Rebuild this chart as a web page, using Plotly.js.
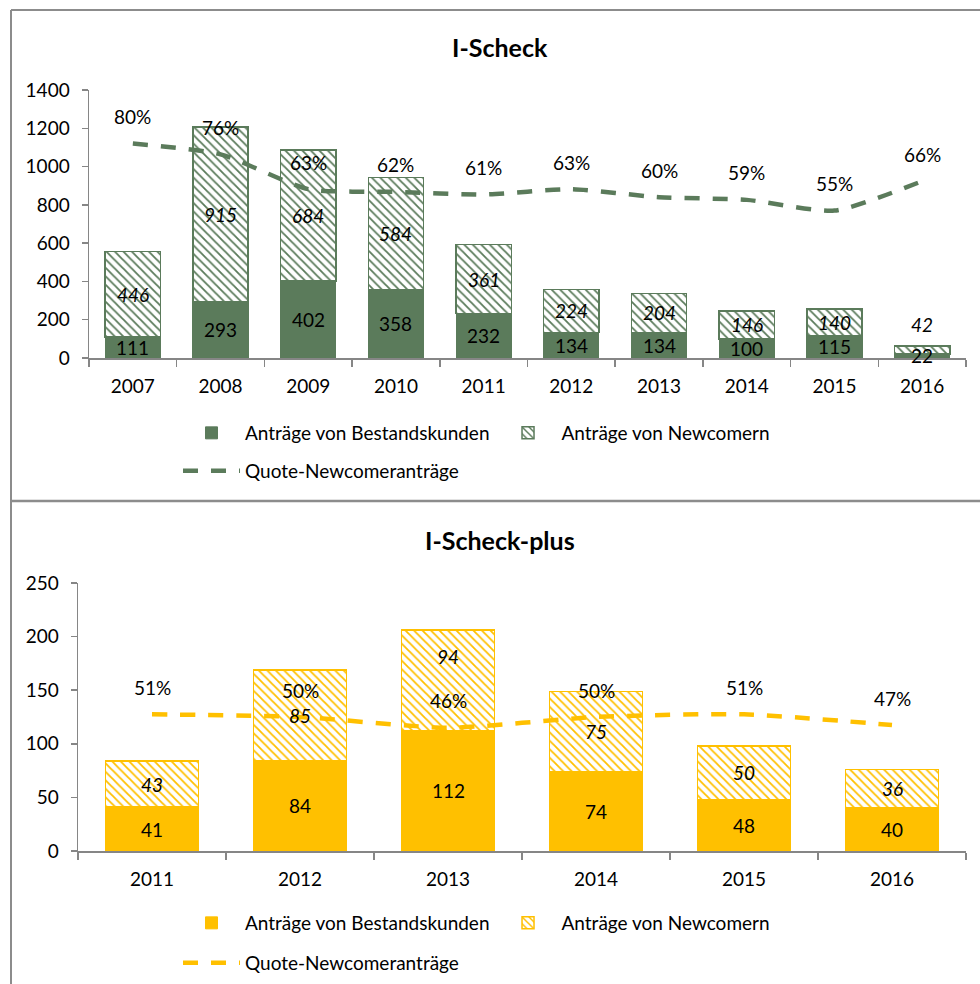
<!DOCTYPE html>
<html>
<head>
<meta charset="utf-8">
<script src="https://cdn.plot.ly/plotly-3.0.1.min.js"></script>
<style>html,body{margin:0;padding:0;background:#fff}#chart{width:980px;height:984px}</style>
</head>
<body>
<div id="chart"></div>
<script>
// ---- data: I-Scheck ----
var yearsA = ['2007','2008','2009','2010','2011','2012','2013','2014','2015','2016'];
var bestandA = [111, 293, 402, 358, 232, 134, 134, 100, 115, 22];
var newcomerA = [446, 915, 684, 584, 361, 224, 204, 146, 140, 42];
var quoteA = [0.80, 0.76, 0.63, 0.62, 0.61, 0.63, 0.60, 0.59, 0.55, 0.66];
// ---- data: I-Scheck-plus ----
var yearsB = ['2011','2012','2013','2014','2015','2016'];
var bestandB = [41, 84, 112, 74, 48, 40];
var newcomerB = [43, 85, 94, 75, 50, 36];
var quoteB = [0.51, 0.50, 0.46, 0.50, 0.51, 0.47];

var GREEN = '#5B7B5B', YELLOW = '#FFC000', AX = '#868686';
var FONT = 'Lato, "Open Sans", sans-serif';
var FS = 19;
var W = 980, H = 984;
var PLOT_H = 268; // pixel height of each plot area
function py(p){ return 1 - p / H; }
function px(p){ return p / W; }

var traces = [];
function addChart(years, bestand, newcomer, quote, col, xa, ya, ya2, lgA, lgB){
  traces.push({type:'bar', name:'Anträge von Bestandskunden', x:years, y:bestand, xaxis:xa, yaxis:ya,
    width:0.63, marker:{color:col, line:{color:col, width:1}}, legend:lgA, hoverinfo:'skip'});
  traces.push({type:'bar', name:'Anträge von Newcomern', x:years, y:newcomer, xaxis:xa, yaxis:ya,
    width:0.63, marker:{color:'white', pattern:{shape:'\\', fgcolor:col, bgcolor:'white', size:6, solidity:0.3},
    line:{color:col, width:1.5}}, legend:lgA, hoverinfo:'skip'});
  traces.push({type:'scatter', mode:'lines', name:'Quote-Newcomeranträge', x:years, y:quote, xaxis:xa, yaxis:ya2,
    line:{color:col, width:4.5, dash:'15px,13px', shape:'spline', smoothing:0.6}, legend:lgB, hoverinfo:'skip'});
}
addChart(yearsA, bestandA, newcomerA, quoteA, GREEN, 'x', 'y', 'y2', 'legend', 'legend2');
addChart(yearsB, bestandB, newcomerB, quoteB, YELLOW, 'x2', 'y3', 'y4', 'legend3', 'legend4');

var annotations = [];
function addLabels(years, bestand, newcomer, quote, xr, yr, yr2, pxPerUnit){
  for (var i = 0; i < years.length; i++){
    // category axes: annotations use the category index
    annotations.push({x:i, y:bestand[i]/2, xref:xr, yref:yr, text:String(bestand[i]), showarrow:false,
      font:{family:FONT, size:FS, color:'#000'}});
    var small = newcomer[i] * pxPerUnit < 20;
    var shift = small ? 8 : 0;
    if (!small){
      // avoid collisions with the percentage label (as in the original)
      var nPx = (bestand[i] + newcomer[i]/2) * pxPerUnit;
      var qPx = quote[i] * PLOT_H + 27;
      if (Math.abs(nPx - qPx) < 22) shift = qPx + 44 - nPx;
    }
    annotations.push({x:i, y: small ? bestand[i] + newcomer[i] : bestand[i] + newcomer[i]/2,
      xref:xr, yref:yr, text:'<i>' + newcomer[i] + '</i>', showarrow:false, yanchor: small ? 'bottom' : 'middle',
      yshift: shift, font:{family:FONT, size:FS, color:'#000'}});
    annotations.push({x:i, y:quote[i], xref:xr, yref:yr2, text:Math.round(quote[i]*100) + '%', showarrow:false,
      yshift:27, font:{family:FONT, size:FS, color:'#000'}});
  }
}
addLabels(yearsA, bestandA, newcomerA, quoteA, 'x', 'y', 'y2', PLOT_H/1400);
addLabels(yearsB, bestandB, newcomerB, quoteB, 'x2', 'y3', 'y4', PLOT_H/250);

annotations.push({text:'<b>I-Scheck</b>', xref:'paper', yref:'paper', x:px(500), y:py(47), yanchor:'middle', showarrow:false,
  font:{family:FONT, size:25, color:'#000'}});
annotations.push({text:'<b>I-Scheck-plus</b>', xref:'paper', yref:'paper', x:px(500), y:py(540), yanchor:'middle', showarrow:false,
  font:{family:FONT, size:25, color:'#000'}});

function xaxisDef(domain, anchor, n){
  return {domain:domain, anchor:anchor, type:'category', range:[-0.5, n - 0.5], autorange:false,
    showline:true, linecolor:AX, linewidth:2, tickangle:0,
    ticks:'outside', tickson:'boundaries', ticklen:7, tickcolor:AX, tickwidth:1.5, showgrid:false, zeroline:false,
    tickfont:{family:FONT, size:FS, color:'#000'}, ticklabelstandoff:10, fixedrange:true};
}
function yaxisDef(domain, anchor, range, dtick){
  return {domain:domain, anchor:anchor, range:range, autorange:false, dtick:dtick, showline:true, linecolor:AX, linewidth:1.5,
    ticks:'outside', ticklen:6, tickcolor:AX, tickwidth:1.5, showgrid:false, zeroline:false,
    tickfont:{family:FONT, size:FS, color:'#000'}, ticklabelstandoff:8, fixedrange:true};
}

var legendBase = {orientation:'h', xanchor:'left', yanchor:'middle', bgcolor:'rgba(0,0,0,0)',
  font:{family:FONT, size:FS, color:'#000'}, itemwidth:57, traceorder:'normal', itemclick:false, itemdoubleclick:false};
function lg(x, y){ var o = JSON.parse(JSON.stringify(legendBase)); o.x = x; o.y = y; return o; }

var layout = {
  width:W, height:H, margin:{l:0, r:0, t:0, b:0}, paper_bgcolor:'#fff', plot_bgcolor:'rgba(0,0,0,0)',
  barmode:'stack', showlegend:true, font:{family:FONT, size:FS, color:'#000'},
  xaxis: xaxisDef([px(89), px(966)], 'y', yearsA.length),
  yaxis: yaxisDef([py(358), py(90)], 'x', [0, 1400], 200),
  yaxis2: {overlaying:'y', range:[0, 1], autorange:false, visible:false, fixedrange:true},
  xaxis2: xaxisDef([px(78), px(966)], 'y3', yearsB.length),
  yaxis3: yaxisDef([py(851), py(583)], 'x2', [0, 250], 50),
  yaxis4: {overlaying:'y3', range:[0, 1], autorange:false, visible:false, fixedrange:true},
  legend: lg(px(178), py(433)),
  legend2: lg(px(178), py(471)),
  legend3: lg(px(178), py(923)),
  legend4: lg(px(178), py(963)),
  annotations: annotations,
  shapes: [
    {type:'line', xref:'paper', yref:'paper', x0:px(11), x1:1, y0:py(10), y1:py(10), line:{color:'#8c8c8c', width:2}},
    {type:'line', xref:'paper', yref:'paper', x0:px(11), x1:px(11), y0:py(10), y1:0, line:{color:'#8c8c8c', width:2}},
    {type:'line', xref:'paper', yref:'paper', x0:px(11), x1:1, y0:py(501), y1:py(501), line:{color:'#8c8c8c', width:2.5}}
  ]
};

Plotly.newPlot('chart', traces, layout, {staticPlot:true, displayModeBar:false});
</script>
</body>
</html>
